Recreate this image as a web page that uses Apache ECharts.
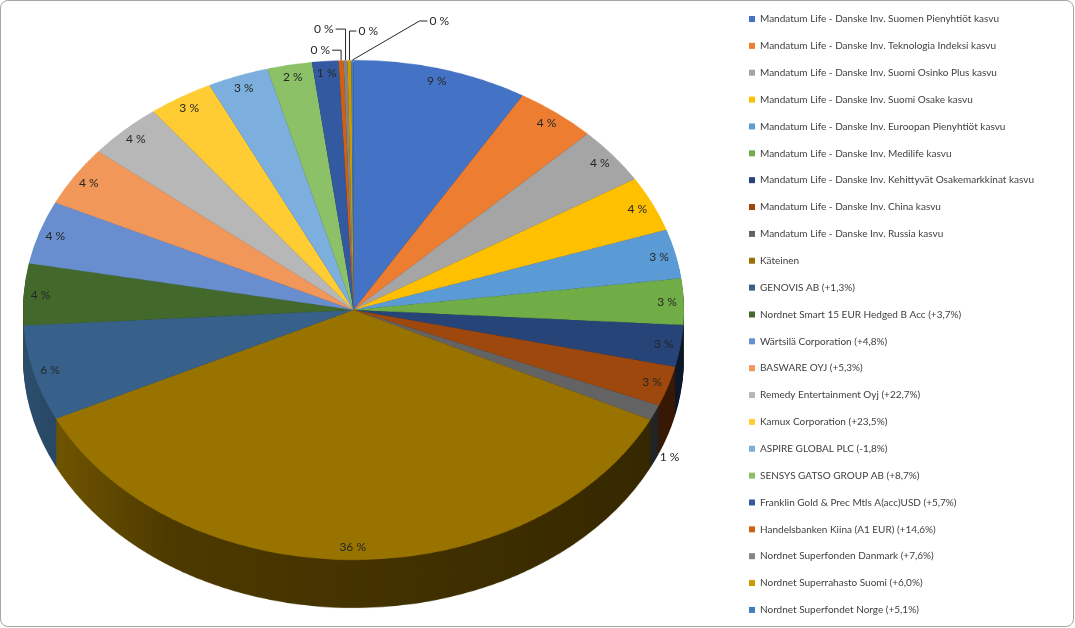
<!DOCTYPE html>
<html>
<head>
<meta charset="utf-8">
<script src="https://cdn.jsdelivr.net/npm/echarts@6/dist/echarts.min.js"></script>
<style>
html, body { margin: 0; padding: 0; background: #fff; }
#frame { position: absolute; left: 0; top: 0; width: 1072px; height: 625px; border: 1px solid #a6a6a6; border-radius: 8px; }
#pie { position: absolute; left: 0; top: 0; width: 1075px; height: 830px; transform: scaleY(0.7564); transform-origin: 0 0; }
#chart { position: absolute; left: 0; top: 0; width: 1075px; height: 628px; }
</style>
</head>
<body>
<div id="frame"></div>
<div id="pie"></div>
<div id="chart"></div>
<script>
var names = [
    'Mandatum Life - Danske Inv. Suomen Pienyhtiöt kasvu',
    'Mandatum Life - Danske Inv. Teknologia Indeksi kasvu',
    'Mandatum Life - Danske Inv. Suomi Osinko Plus kasvu',
    'Mandatum Life - Danske Inv. Suomi Osake kasvu',
    'Mandatum Life - Danske Inv. Euroopan Pienyhtiöt kasvu',
    'Mandatum Life - Danske Inv. Medilife kasvu',
    'Mandatum Life - Danske Inv. Kehittyvät Osakemarkkinat kasvu',
    'Mandatum Life - Danske Inv. China kasvu',
    'Mandatum Life - Danske Inv. Russia kasvu',
    'Käteinen',
    'GENOVIS AB (+1,3%)',
    'Nordnet Smart 15 EUR Hedged B Acc (+3,7%)',
    'Wärtsilä Corporation (+4,8%)',
    'BASWARE OYJ (+5,3%)',
    'Remedy Entertainment Oyj (+22,7%)',
    'Kamux Corporation (+23,5%)',
    'ASPIRE GLOBAL PLC (-1,8%)',
    'SENSYS GATSO GROUP AB (+8,7%)',
    'Franklin Gold & Prec Mtls A(acc)USD (+5,7%)',
    'Handelsbanken Kiina (A1 EUR) (+14,6%)',
    'Nordnet Superfonden Danmark (+7,6%)',
    'Nordnet Superrahasto Suomi (+6,0%)',
    'Nordnet Superfondet Norge (+5,1%)'
];
var values = [8.6, 4.0, 3.7, 3.6, 3.2, 3.0, 2.7, 2.6, 1.0, 35.8, 6.2, 4.0, 4.1, 3.9, 3.7, 3.2, 3.0, 2.2, 1.3, 0.24, 0.19, 0.19, 0.1];
var colors = [
    '#4472C4', '#ED7D31', '#A5A5A5', '#FFC000', '#5B9BD5', '#70AD47',
    '#264478', '#9E480E', '#636363', '#997300', '#37618A', '#43682B',
    '#698ED0', '#F1975A', '#B7B7B7', '#FFCD33', '#7CAFDD', '#8CC168',
    '#335AA1', '#D26012', '#848484', '#CC9A00', '#3F7FBF'
];

// pie geometry: a circle squashed into an ellipse, with a side of DEPTH px
var CX = 353.5, CY = 310, R = 330.5, SQ = 0.7564, DEPTH = 48, LAYERS = 30;

// labels that sit outside the slice: line bends relative to the slice edge
var callouts = {
    19: [[0, -10], [-9, -10]],
    20: [[0, -31], [-10, -31]],
    21: [[0, -29], [7, -29]],
    22: [[67, -39], [75, -39]]
};
var moved = { 8: [30, 50] };

var shade = function (hex, f) {
    var n = parseInt(hex.slice(1), 16);
    var r = Math.round(((n >> 16) & 255) * f);
    var g = Math.round(((n >> 8) & 255) * f);
    var b = Math.round((n & 255) * f);
    return 'rgb(' + r + ',' + g + ',' + b + ')';
};

var faceData = names.map(function (n, i) {
    return { name: n, value: values[i], itemStyle: { color: colors[i] } };
});
var sideData = names.map(function (n, i) {
    return {
        name: n, value: values[i],
        itemStyle: {
            color: {
                type: 'linear', x: CX - R, y: 0, x2: CX + R, y2: 0, global: true,
                colorStops: [
                    { offset: 0, color: shade(colors[i], 0.8) },
                    { offset: 0.22, color: shade(colors[i], 0.5) },
                    { offset: 1, color: shade(colors[i], 0.34) }
                ]
            }
        }
    };
});

var pieChart = echarts.init(document.getElementById('pie'));
var pieSeries = [];
var step = DEPTH / SQ / LAYERS;
for (var k = LAYERS; k >= 0; k--) {
    pieSeries.push({
        type: 'pie',
        silent: true,
        animation: false,
        center: [CX, CY / SQ + k * step],
        radius: R,
        startAngle: 90,
        label: { show: false },
        labelLine: { show: false },
        data: k === 0 ? faceData : sideData
    });
}
pieChart.setOption({ series: pieSeries });

var chart = echarts.init(document.getElementById('chart'));
var labelData = names.map(function (n, i) {
    var d = { name: n, value: values[i] };
    if (callouts[i]) {
        d.label = { position: 'outside' };
        d.labelLine = { show: true, length: 10, length2: 6 };
    }
    return d;
});
var option = {
    legend: {
        orient: 'vertical',
        left: 749,
        top: 13,
        padding: 0,
        itemWidth: 6,
        itemHeight: 6,
        itemGap: 14.86,
        icon: 'rect',
        selectedMode: false,
        textStyle: { fontFamily: 'Lato', fontSize: 10, color: '#404040', lineHeight: 12 },
        data: names.map(function (n, i) {
            return { name: n, itemStyle: { color: colors[i] } };
        })
    },
    series: [
        {
            type: 'pie',
            silent: true,
            animation: false,
            center: [CX, CY],
            radius: [R * 0.88, R],
            startAngle: 90,
            avoidLabelOverlap: false,
            itemStyle: { color: 'rgba(0,0,0,0)' },
            label: {
                show: true,
                position: 'inside',
                fontFamily: 'Lato',
                fontSize: 12,
                color: '#262626',
                formatter: function (p) {
                    return Math.round(p.percent) + ' %';
                }
            },
            labelLine: { show: false, lineStyle: { color: '#262626', width: 1 } },
            labelLayout: function (p) {
                var sq = function (y) { return CY + (y - CY) * SQ; };
                var c = callouts[p.dataIndex];
                if (c && p.labelLinePoints) {
                    var ex = p.labelLinePoints[0][0];
                    var ey = sq(p.labelLinePoints[0][1]);
                    var a = [ex + c[0][0], ey + c[0][1]];
                    var b = [ex + c[1][0], ey + c[1][1]];
                    var left = c[1][0] < c[0][0];
                    return {
                        x: b[0] + (left ? -2 : 2),
                        y: b[1],
                        align: left ? 'right' : 'left',
                        verticalAlign: 'middle',
                        labelLinePoints: [[ex, ey], a, b]
                    };
                }
                var my = p.labelRect.y + p.labelRect.height / 2;
                var off = moved[p.dataIndex] || [0, 0];
                return { dx: off[0], dy: sq(my) - my + off[1] };
            },
            data: labelData
        }
    ]
};
chart.setOption(option);
</script>
</body>
</html>
